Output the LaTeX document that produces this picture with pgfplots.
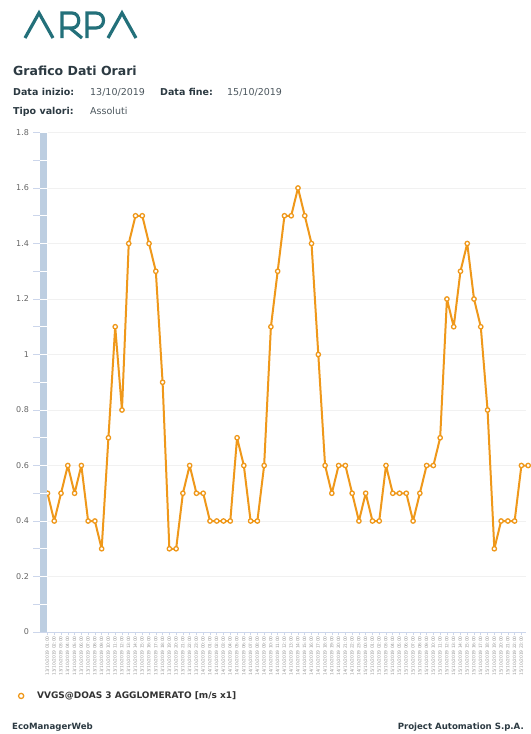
\documentclass[border=0pt]{standalone}
\usepackage{fontspec}
\setmainfont{DejaVu Sans}
\usepackage{pgfplots}
\pgfplotsset{compat=1.18}

\definecolor{linecol}{HTML}{EF981A}
\definecolor{barcol}{HTML}{BDCEE1}
\definecolor{axcol}{HTML}{CCD6EB}
\definecolor{gridcol}{HTML}{F1F1F1}
\definecolor{dark}{HTML}{2C3A42}
\definecolor{logo}{HTML}{23707A}

% hourly values, 13/10/2019 - 15/10/2019
\pgfplotstableread{
i v
0 0.5
1 0.4
2 0.5
3 0.6
4 0.5
5 0.6
6 0.4
7 0.4
8 0.3
9 0.7
10 1.1
11 0.8
12 1.4
13 1.5
14 1.5
15 1.4
16 1.3
17 0.9
18 0.3
19 0.3
20 0.5
21 0.6
22 0.5
23 0.5
24 0.4
25 0.4
26 0.4
27 0.4
28 0.7
29 0.6
30 0.4
31 0.4
32 0.6
33 1.1
34 1.3
35 1.5
36 1.5
37 1.6
38 1.5
39 1.4
40 1.0
41 0.6
42 0.5
43 0.6
44 0.6
45 0.5
46 0.4
47 0.5
48 0.4
49 0.4
50 0.6
51 0.5
52 0.5
53 0.5
54 0.4
55 0.5
56 0.6
57 0.6
58 0.7
59 1.2
60 1.1
61 1.3
62 1.4
63 1.2
64 1.1
65 0.8
66 0.3
67 0.4
68 0.4
69 0.4
70 0.6
71 0.6
}\datatable

\begin{document}
\begin{tikzpicture}
\begin{scope}[x=1pt,y=1pt]
\fill[white] (0,0) rectangle (526,-734);
\useasboundingbox (0,0) rectangle (526,-734);

% logo
\begin{scope}[draw=logo, line width=3.2pt, line join=miter, line cap=butt]
\draw (25,-38) -- (39,-13) -- (53,-38);
\draw (62,-38) -- (62,-13) -- (72,-13) .. controls (81,-13) and (81,-28) .. (72,-28) -- (62,-28);
\draw (70,-28) -- (82,-38);
\draw (87,-38) -- (87,-13) -- (96,-13) .. controls (106,-13) and (106,-28) .. (96,-28) -- (87,-28);
\draw (108,-38) -- (122,-13) -- (136,-38);
\end{scope}

% header
\node[anchor=base west, inner sep=0pt, text=dark, font=\bfseries\fontsize{12.5}{14}\selectfont] at (13,-75) {Grafico Dati Orari};
\begin{scope}[every node/.style={anchor=base west, inner sep=0pt, font=\fontsize{9.5}{11}\selectfont}]
\node[text=dark, font=\bfseries\fontsize{9.5}{11}\selectfont] at (13,-95) {Data inizio:};
\node[text=dark!85] at (90,-95) {13/10/2019};
\node[text=dark, font=\bfseries\fontsize{9.5}{11}\selectfont] at (160,-95) {Data fine:};
\node[text=dark!85] at (227,-95) {15/10/2019};
\node[text=dark, font=\bfseries\fontsize{9.5}{11}\selectfont] at (13,-114) {Tipo valori:};
\node[text=dark!85] at (90,-114) {Assoluti};
\end{scope}

% y tick marks (every 0.1) left of the bar
\foreach \k in {0,...,18} \draw[axcol, line width=0.8pt] (33,{-632+27.75*\k}) -- (40,{-632+27.75*\k});
\end{scope}

\begin{axis}[
    at={(47.5pt,-632pt)}, anchor=south west,
    scale only axis,
    width=478.5pt, height=499.5pt,
    xmin=0, xmax=70.68,
    ymin=0, ymax=1.8,
    clip=false,
    axis line style={draw=none},
    tick pos=left,
    tick align=outside,
    major tick length=3pt,
    xtick={0,...,71},
    x tick style={axcol, line width=0.6pt},
    xticklabel={\pgfmathtruncatemacro\dd{13+floor((\tick+1)/24)}\pgfmathtruncatemacro\hh{mod(\tick+1,24)}\dd/10/2019 \ifnum\hh<10 0\fi\hh:00},
    xticklabel style={rotate=90, anchor=east, inner sep=1pt, text=gray!80, font=\fontsize{4.4}{5}\selectfont},
    ytick={0,0.2,...,1.8},
    y tick style={draw=none},
    yticklabel style={text=black!60, xshift=-12pt, font=\fontsize{8}{9}\selectfont, /pgf/number format/assume math mode=true},
    ymajorgrids,
    major grid style={gridcol, line width=0.6pt},
    legend style={at={(-0.068,-0.128)}, anchor=west, draw=none, fill=none, inner sep=0pt,
        font=\bfseries\fontsize{9}{11}\selectfont, text=black!80},
    legend image code/.code={\path[draw=none, fill=none] (0pt,-1pt) rectangle (20pt,1pt);
        \draw[#1, mark size=2.6pt] plot coordinates {(6pt,0pt)};},
]
\addplot[color=linecol, line width=2pt, line join=round, mark=*, mark size=2.2pt,
    mark options={fill=white, draw=linecol, line width=1.3pt}]
    table[x=i, y=v] {\datatable};
\addlegendentry{VVGS@DOAS 3 AGGLOMERATO [m/s x1]}
\end{axis}

\begin{scope}[x=1pt,y=1pt]
% x axis line and y bar
\draw[axcol, line width=0.8pt] (33,-632) -- (526,-632);
\fill[barcol] (40,-632) rectangle (47,-132.5);
\foreach \k in {1,...,18} \draw[white, line width=0.6pt] (40,{-632+27.75*\k}) -- (47,{-632+27.75*\k});

% footer
\node[anchor=base west, inner sep=0pt, text=dark, font=\bfseries\fontsize{8.6}{10}\selectfont] at (12,-729) {EcoManagerWeb};
\node[anchor=base east, inner sep=0pt, text=dark, font=\bfseries\fontsize{8.6}{10}\selectfont] at (524,-729) {Project Automation S.p.A.};
\end{scope}
\end{tikzpicture}
\end{document}
